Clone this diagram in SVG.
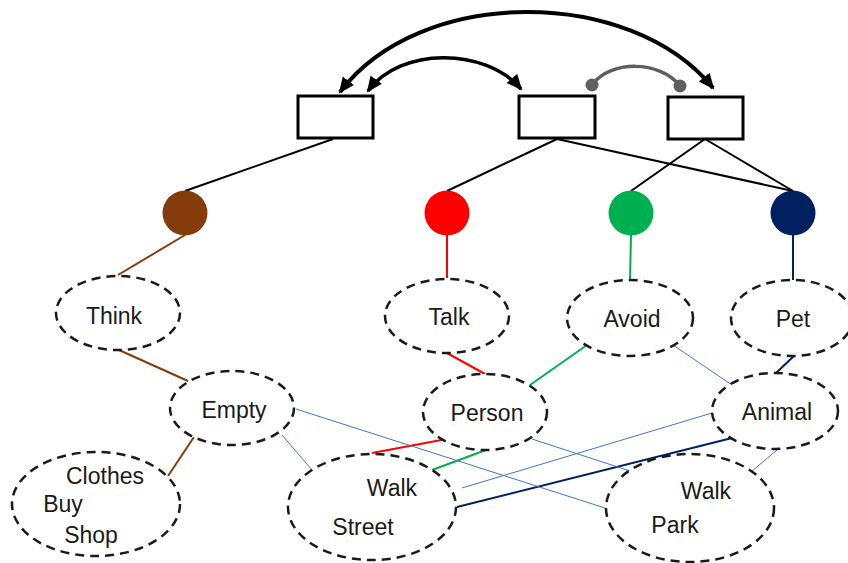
<svg xmlns="http://www.w3.org/2000/svg" width="848" height="563" viewBox="0 0 848 563">
<style>
.box{fill:#fff;stroke:#000;stroke-width:3}
.ell{fill:#fff;stroke:#1a1a1a;stroke-width:2.5;stroke-dasharray:9 6}
.lbl{font-family:"Liberation Sans",Arial,sans-serif;font-size:23px;fill:#1a1a1a;text-anchor:middle}
.blk{stroke:#000;stroke-width:2;fill:none}
.br{stroke:#843C0C;stroke-width:2;fill:none}
.rd{stroke:#FF0000;stroke-width:2;fill:none}
.gr{stroke:#00B050;stroke-width:2;fill:none}
.nv{stroke:#002060;stroke-width:2;fill:none}
.lb{stroke:#4472C4;stroke-width:1;fill:none}
</style>
<defs>
<marker id="ah" markerUnits="userSpaceOnUse" markerWidth="20" markerHeight="16" refX="14" refY="7" orient="auto-start-reverse">
<path d="M0,0 L16,7 L0,14 z" fill="#000"/>
</marker>
</defs>
<g id="connectors">
<path class="blk" d="M333,139 L185,191"/>
<path class="blk" d="M557,139 L447,191"/>
<path class="blk" d="M557,139 L793,191"/>
<path class="blk" d="M705,139 L631,191"/>
<path class="blk" d="M705,139 L793,191"/>
<path d="M340,92 C420,-14 630,-14 713,88" stroke="#000" stroke-width="4" fill="none" marker-start="url(#ah)" marker-end="url(#ah)"/>
<path d="M368,91 C400,47 485,47 521,89" stroke="#000" stroke-width="3.5" fill="none" marker-start="url(#ah)" marker-end="url(#ah)"/>
<path d="M592,85 C610,60 660,60 680,86" stroke="#5f5f5f" stroke-width="3.5" fill="none"/>
<circle cx="592" cy="85" r="6.5" fill="#5f5f5f"/>
<circle cx="680" cy="86" r="6.5" fill="#5f5f5f"/>
<path class="br" d="M185,235 L118,275"/>
<path class="br" d="M119,350 L188,381"/>
<path class="br" d="M194,437 L168,476"/>
<path class="rd" d="M447,235 L447,278"/>
<path class="rd" d="M447,353 L485,374"/>
<path class="rd" d="M452,438 L372,453"/>
<path class="gr" d="M631,235 L630,280"/>
<path class="gr" d="M587,345 L530,385"/>
<path class="gr" d="M486,450 L432,470"/>
<path class="nv" d="M793,235 L793,280"/>
<path class="nv" d="M795,355 L776,373"/>
<path class="nv" d="M732,438 L457,507" stroke-width="2.5"/>
<path class="lb" d="M673,345 L732,385"/>
<path class="lb" d="M712,413 L462,488"/>
<path class="lb" d="M777,450 L752,471"/>
<path class="lb" d="M532,439 L630,471"/>
<path class="lb" d="M296,409 L605,508"/>
<path class="lb" d="M282,435 L312,470"/>
</g>
<g id="box1"><rect class="box" x="298" y="96" width="75" height="42"/></g>
<g id="box2"><rect class="box" x="519" y="96" width="76" height="42"/></g>
<g id="box3"><rect class="box" x="668" y="97" width="75" height="42"/></g>
<g id="c-brown"><circle cx="185" cy="213" r="22.5" fill="#843C0C"/></g>
<g id="c-red"><circle cx="447" cy="213" r="22.5" fill="#FF0000"/></g>
<g id="c-green"><circle cx="631" cy="213" r="22.5" fill="#00B050"/></g>
<g id="c-navy"><circle cx="793" cy="213" r="22.5" fill="#002060"/></g>
<g id="think"><ellipse class="ell" cx="118" cy="313" rx="62" ry="37"/><text class="lbl" x="114" y="324">Think</text></g>
<g id="talk"><ellipse class="ell" cx="447" cy="316" rx="62" ry="37"/><text class="lbl" x="449" y="325">Talk</text></g>
<g id="avoid"><ellipse class="ell" cx="630" cy="318" rx="63" ry="38"/><text class="lbl" x="632" y="327">Avoid</text></g>
<g id="pet"><ellipse class="ell" cx="792" cy="318" rx="61" ry="38"/><text class="lbl" x="793" y="327">Pet</text></g>
<g id="empty"><ellipse class="ell" cx="232" cy="408" rx="62" ry="37"/><text class="lbl" x="234" y="418">Empty</text></g>
<g id="person"><ellipse class="ell" cx="485" cy="412" rx="62" ry="38"/><text class="lbl" x="487" y="421">Person</text></g>
<g id="animal"><ellipse class="ell" cx="775" cy="411" rx="63" ry="38"/><text class="lbl" x="777" y="420">Animal</text></g>
<g id="clothes"><ellipse class="ell" cx="96" cy="504" rx="84" ry="52"/><text class="lbl" x="105" y="484">Clothes</text><text class="lbl" x="63" y="512">Buy</text><text class="lbl" x="91" y="543">Shop</text></g>
<g id="walkstreet"><ellipse class="ell" cx="372" cy="507" rx="84" ry="53"/><text class="lbl" x="392" y="496">Walk</text><text class="lbl" x="363" y="535">Street</text></g>
<g id="walkpark"><ellipse class="ell" cx="690" cy="508" rx="84" ry="54"/><text class="lbl" x="706" y="499">Walk</text><text class="lbl" x="675" y="533">Park</text></g>
</svg>
